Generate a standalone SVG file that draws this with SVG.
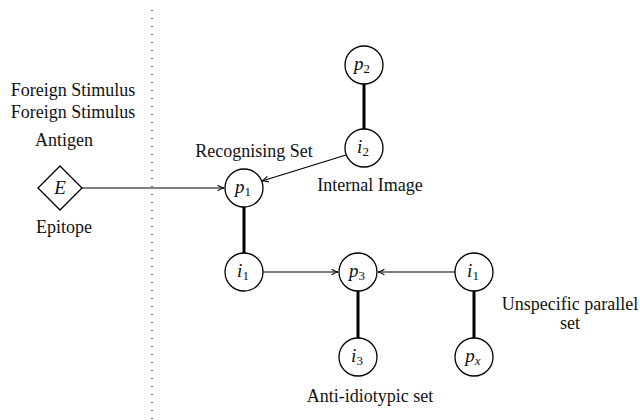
<svg xmlns="http://www.w3.org/2000/svg" width="640" height="420" viewBox="0 0 640 420">
<defs>
<style>
.n{fill:#fff;stroke:#000;stroke-width:1.3}
.c{stroke:#000;stroke-width:1.2;fill:none}
.k{stroke:#000;stroke-width:3;fill:none}
</style>
<marker id="a" viewBox="0 0 10 10" refX="9" refY="5" markerWidth="8" markerHeight="8" markerUnits="userSpaceOnUse" orient="auto">
<path d="M1,1.5 Q5,4 9,5 Q5,6 1,8.5" fill="none" stroke="#000" stroke-width="1.3"/>
</marker>
</defs>
<rect width="640" height="420" fill="#fff"/>
<line x1="152" y1="10" x2="152" y2="420" stroke="#000" stroke-width="1.2" stroke-dasharray="1 7"/>
<g id="labels" font-size="18" fill="#111" text-anchor="middle">
<text font-family="Liberation Serif" x="73" y="96">Foreign Stimulus</text>
<text font-family="Liberation Serif" x="73" y="118">Foreign Stimulus</text>
<text font-family="Liberation Serif" x="64" y="146">Antigen</text>
<text font-family="Liberation Serif" x="64" y="233">Epitope</text>
<text font-family="Liberation Serif" x="254" y="157">Recognising Set</text>
<text font-family="Liberation Serif" x="370" y="191">Internal Image</text>
<text font-family="Liberation Serif" x="370" y="402">Anti-idiotypic set</text>
<text font-family="Liberation Serif" x="570" y="310">Unspecific parallel</text>
<text font-family="Liberation Serif" x="570" y="329">set</text>
</g>
<g id="connectors">
<line class="k" x1="364" y1="84" x2="364" y2="129"/>
<line class="k" x1="244" y1="207" x2="244" y2="253"/>
<line class="k" x1="358" y1="291" x2="358" y2="338"/>
<line class="k" x1="474" y1="291" x2="474" y2="338"/>
<line class="c" x1="82" y1="188" x2="224" y2="188" marker-end="url(#a)"/>
<line class="c" x1="346" y1="155" x2="262" y2="181" marker-end="url(#a)"/>
<line class="c" x1="263" y1="272" x2="338" y2="272" marker-end="url(#a)"/>
<line class="c" x1="455" y1="272" x2="378" y2="272" marker-end="url(#a)"/>
</g>
<g font-size="19" font-style="italic" fill="#111" text-anchor="middle">
<g id="E">
<polygon class="n" points="60,166 82,188 60,210 38,188"/>
<text font-family="Liberation Serif" x="60" y="194">E</text>
</g>
<g id="p2">
<circle class="n" cx="364" cy="65" r="19"/>
<text font-family="Liberation Serif" x="362" y="70">p<tspan font-style="normal" font-size="13" dy="3">2</tspan></text>
</g>
<g id="i2">
<circle class="n" cx="364" cy="148" r="19"/>
<text font-family="Liberation Serif" x="363" y="153">i<tspan font-style="normal" font-size="13" dy="3">2</tspan></text>
</g>
<g id="p1">
<circle class="n" cx="244" cy="188" r="19"/>
<text font-family="Liberation Serif" x="243" y="193">p<tspan font-style="normal" font-size="13" dy="3">1</tspan></text>
</g>
<g id="i1">
<circle class="n" cx="244" cy="272" r="19"/>
<text font-family="Liberation Serif" x="243" y="277">i<tspan font-style="normal" font-size="13" dy="3">1</tspan></text>
</g>
<g id="p3">
<circle class="n" cx="358" cy="272" r="19"/>
<text font-family="Liberation Serif" x="357" y="277">p<tspan font-style="normal" font-size="13" dy="3">3</tspan></text>
</g>
<g id="i3">
<circle class="n" cx="358" cy="357" r="19"/>
<text font-family="Liberation Serif" x="357" y="362">i<tspan font-style="normal" font-size="13" dy="3">3</tspan></text>
</g>
<g id="i1b">
<circle class="n" cx="474" cy="272" r="19"/>
<text font-family="Liberation Serif" x="473" y="277">i<tspan font-style="normal" font-size="13" dy="3">1</tspan></text>
</g>
<g id="px">
<circle class="n" cx="474" cy="357" r="19"/>
<text font-family="Liberation Serif" x="473" y="362">p<tspan font-size="13" dy="3">x</tspan></text>
</g>
</g>
</svg>
